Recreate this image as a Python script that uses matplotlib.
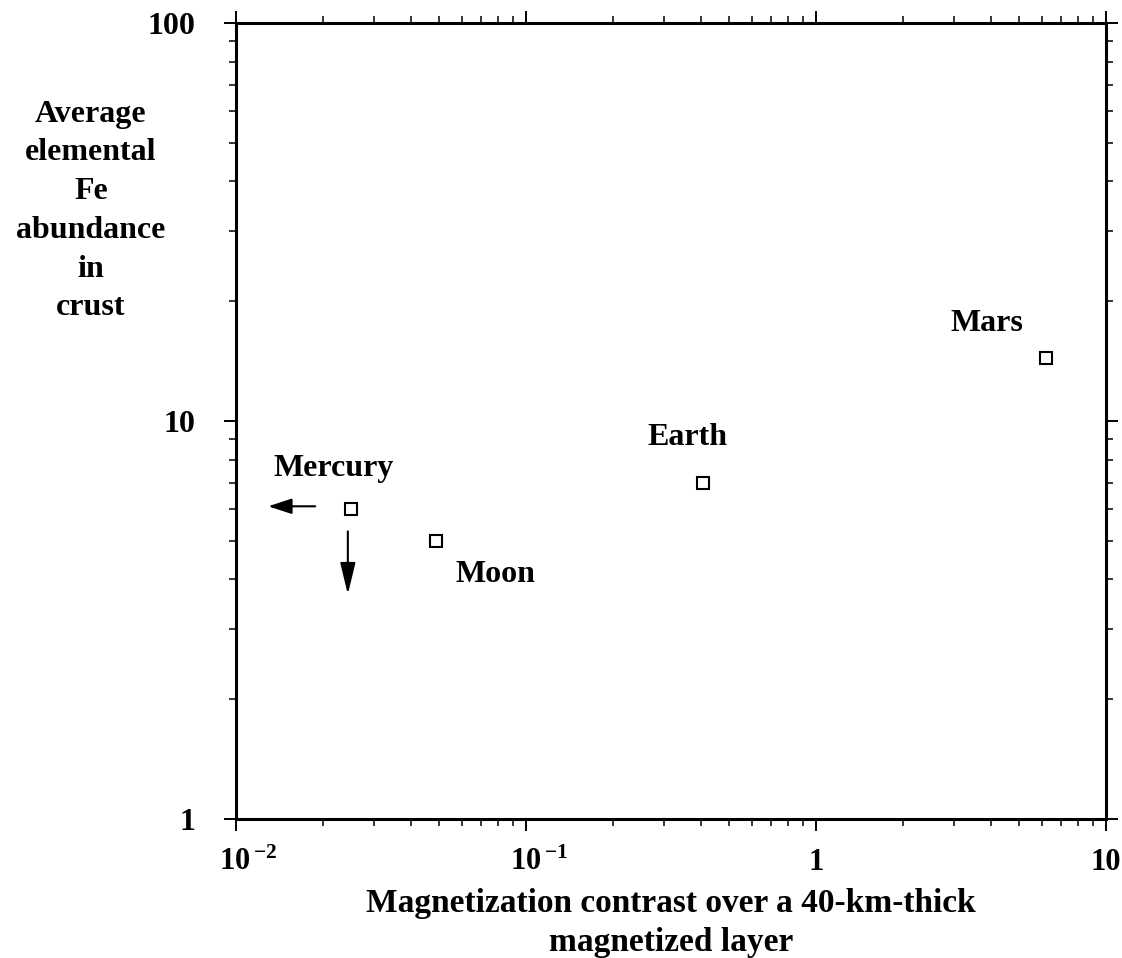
import matplotlib
matplotlib.use("Agg")
import matplotlib.pyplot as plt
from matplotlib.ticker import FixedLocator, LogLocator, NullFormatter

# ---- data ----
bodies = ["Mercury", "Moon", "Earth", "Mars"]
magnetization = [0.0249, 0.0488, 0.409, 6.2]
fe_abundance = [6.0, 5.0, 7.0, 14.4]
x_ticks = [0.01, 0.1, 1, 10]
x_tick_labels = [r"$\mathbf{\quad 10^{\,{-2}}}$",
                 r"$\mathbf{\quad 10^{\,{-1}}}$", "1", "10"]
y_ticks = [1, 10, 100]
y_tick_labels = ["1", "10", "100"]
x_label = "Magnetization contrast over a 40-km-thick\nmagnetized layer"
y_label = "Average\nelemental\nFe\nabundance\nin\ncrust"

# label offsets (points) relative to each point: (dx, dy) baseline-anchored
label_offsets = {"Mercury": (-12.7, 23.8), "Moon": (43.4, -30.0),
                 "Earth": (-11.7, 26.9), "Mars": (-42.3, 19.2)}

plt.rcParams["font.family"] = ["Liberation Serif", "DejaVu Serif"]
plt.rcParams["font.weight"] = "bold"
plt.rcParams["mathtext.fontset"] = "custom"
plt.rcParams["mathtext.rm"] = "Liberation Serif:bold"
plt.rcParams["mathtext.bf"] = "Liberation Serif:bold"
plt.rcParams["mathtext.it"] = "Liberation Serif:bold"

FS = 23

fig = plt.figure(figsize=(11.22, 9.58), dpi=100)
ax = fig.add_axes([236 / 1122, 1 - 819 / 958, 870 / 1122, 796 / 958])
ax.set_xscale("log")
ax.set_yscale("log")
ax.set_xlim(0.01, 10)
ax.set_ylim(1, 100)

ax.plot(magnetization, fe_abundance, linestyle="none", marker="s",
        markersize=8.6, markerfacecolor="white", markeredgecolor="black",
        markeredgewidth=1.5, zorder=3)

for name, xv, yv in zip(bodies, magnetization, fe_abundance):
    dx, dy = label_offsets[name]
    ax.annotate(name, (xv, yv), xytext=(dx, dy), textcoords="offset points",
                ha="center", va="baseline", fontsize=FS, fontweight="bold")

# Mercury upper-limit arrows
mx, my = magnetization[0], fe_abundance[0]
arrow_kw = dict(arrowstyle="-|>,head_length=0.72,head_width=0.235",
                mutation_scale=20, color="black", lw=1.5, shrinkA=0, shrinkB=0)
ax.annotate("", xy=(mx * 0.5186, my * 1.0175), xytext=(mx * 0.753, my * 1.0175),
            arrowprops=arrow_kw)
arrow_kw2 = dict(arrow_kw)
arrow_kw2["arrowstyle"] = "-|>,head_length=0.97,head_width=0.235"
ax.annotate("", xy=(mx * 0.976, my * 0.6115), xytext=(mx * 0.976, my * 0.880),
            arrowprops=arrow_kw2)

# ticks
ax.xaxis.set_major_locator(FixedLocator(x_ticks))
ax.yaxis.set_major_locator(FixedLocator(y_ticks))
ax.xaxis.set_minor_locator(LogLocator(base=10, subs=range(2, 10), numticks=20))
ax.yaxis.set_minor_locator(LogLocator(base=10, subs=range(2, 10), numticks=20))
ax.xaxis.set_minor_formatter(NullFormatter())
ax.yaxis.set_minor_formatter(NullFormatter())
ax.set_xticklabels(x_tick_labels)
ax.set_yticklabels(y_tick_labels)

ax.tick_params(which="both", direction="out", top=True, right=True,
               labeltop=False, labelright=False, color="black")
ax.tick_params(which="major", length=8.5, width=1.4)
ax.tick_params(which="minor", length=5, width=1.1)
ax.tick_params(axis="x", which="major", pad=28, labelsize=22)
ax.tick_params(axis="y", which="major", pad=21, labelsize=FS)

for lbl in ax.xaxis.get_majorticklabels():
    lbl.set_verticalalignment("baseline")
    lbl.set_fontweight("bold")
for lbl in ax.yaxis.get_majorticklabels():
    lbl.set_fontweight("bold")

for sp in ax.spines.values():
    sp.set_linewidth(2.2)

ax.set_xlabel(x_label, fontsize=24, fontweight="bold", linespacing=1.3)
ax.xaxis.set_label_coords(0.5, (819 - 923) / 796)
ax.xaxis.label.set_verticalalignment("center")

ax.set_ylabel(y_label, fontsize=FS, fontweight="bold", rotation=0,
              ha="center", va="center", linespacing=1.44)
ax.yaxis.set_label_coords((91 - 236) / 870, (819 - 211) / 796)

fig.savefig("out.png", dpi=100)
